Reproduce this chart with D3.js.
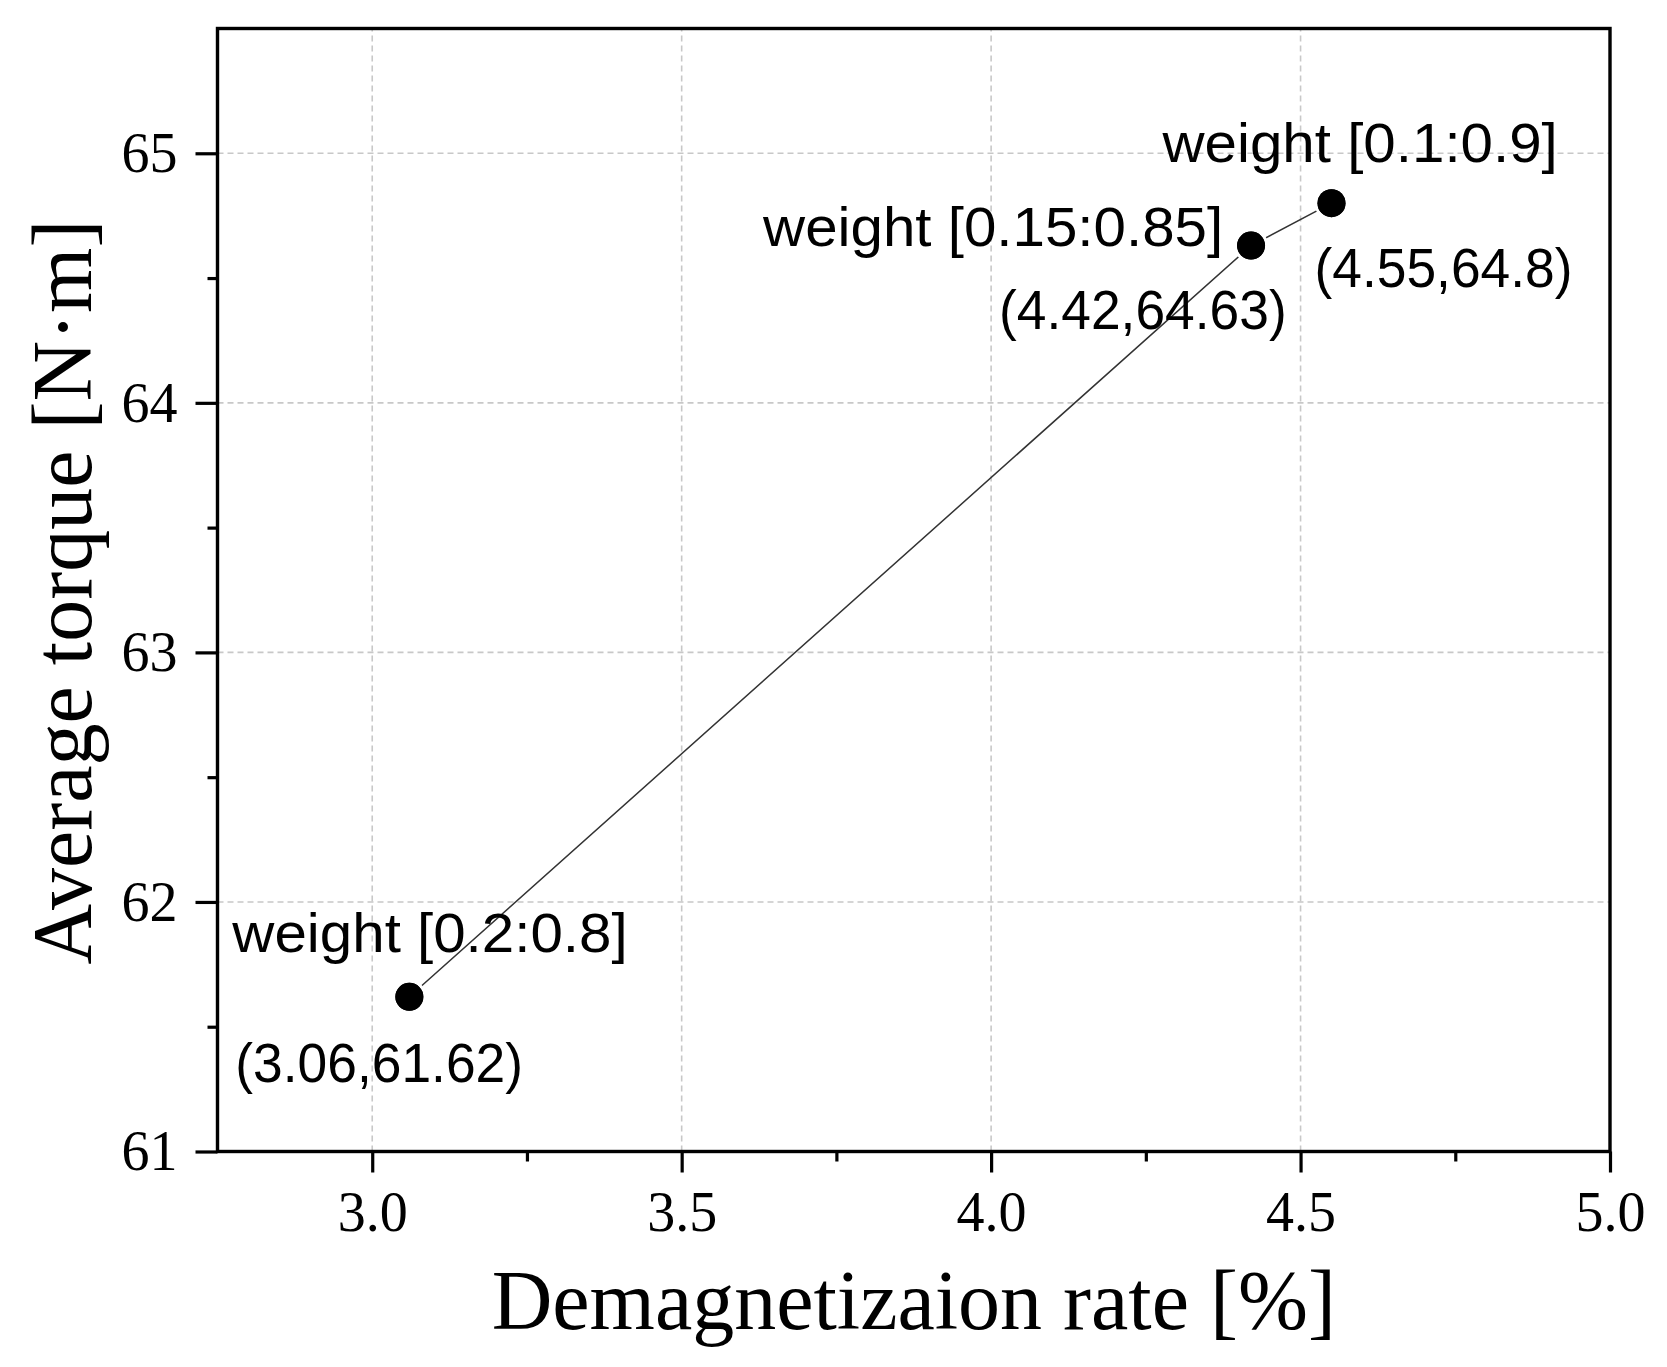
<!DOCTYPE html>
<html>
<head>
<meta charset="utf-8">
<script src="https://cdn.jsdelivr.net/npm/d3@7"></script>
<style>
  html, body { margin: 0; padding: 0; background: #fff; }
  svg { display: block; }
</style>
</head>
<body>
<svg id="chart" width="1667" height="1367"></svg>
<script>
// ---- data ----
const demagRate = [3.06, 4.42, 4.55];
const avgTorque = [61.62, 64.63, 64.8];
const weightLabels = ["weight [0.2:0.8]", "weight [0.15:0.85]", "weight [0.1:0.9]"];
const coordLabels = ["(3.06,61.62)", "(4.42,64.63)", "(4.55,64.8)"];
const xTicks = [3.0, 3.5, 4.0, 4.5, 5.0];
const xMinorTicks = [3.25, 3.75, 4.25, 4.75];
const yTicks = [61, 62, 63, 64, 65];
const yMinorTicks = [61.5, 62.5, 63.5, 64.5];
const xDomain = [2.75, 5.0];
const yDomain = [61, 65.5];
const xTitle = "Demagnetizaion rate [%]";
const yTitle = "Average torque [N·m]";

// ---- layout ----
const L = 217.5, R = 1610, T = 28.5, B = 1151.5;
const svg = d3.select("#chart");
const x = d3.scaleLinear().domain(xDomain).range([L, R]);
const y = d3.scaleLinear().domain(yDomain).range([B, T]);
const serif = "'Liberation Serif', 'Times New Roman', serif";
const sans = "'Liberation Sans', Arial, sans-serif";

// gridlines
const grid = svg.append("g").attr("stroke", "#c8c8c8").attr("stroke-width", 1.6)
  .attr("stroke-dasharray", "6,4");
grid.selectAll("line.gx").data(xTicks.filter(d => d > xDomain[0] && d < xDomain[1]))
  .join("line").attr("x1", d => x(d)).attr("x2", d => x(d)).attr("y1", B).attr("y2", T);
grid.selectAll("line.gy").data(yTicks.filter(d => d > yDomain[0] && d < yDomain[1]))
  .join("line").attr("y1", d => y(d)).attr("y2", d => y(d)).attr("x1", L).attr("x2", R);

// axes
const xAxis = d3.axisBottom(x).tickValues(xTicks).tickFormat(d3.format(".1f"))
  .tickSizeInner(21).tickSizeOuter(0).tickPadding(8);
const xAxisMinor = d3.axisBottom(x).tickValues(xMinorTicks).tickFormat("").tickSizeInner(10).tickSizeOuter(0);
const yAxis = d3.axisLeft(y).tickValues(yTicks).tickFormat(d3.format("d"))
  .tickSizeInner(22).tickSizeOuter(0).tickPadding(18);
const yAxisMinor = d3.axisLeft(y).tickValues(yMinorTicks).tickFormat("").tickSizeInner(10).tickSizeOuter(0);

function styleAxis(g) {
  g.select(".domain").remove();
  g.selectAll(".tick line").attr("stroke", "#000").attr("stroke-width", 3.2);
  g.selectAll(".tick text").attr("fill", "#000").attr("font-family", serif).attr("font-size", 56);
}
svg.append("g").attr("transform", `translate(0,${B})`).call(xAxis).call(styleAxis)
  .selectAll(".tick text").attr("dy", "0.9em");
svg.append("g").attr("transform", `translate(0,${B})`).call(xAxisMinor).call(styleAxis);
svg.append("g").attr("transform", `translate(${L},0)`).call(yAxis).call(styleAxis)
  .selectAll(".tick text").attr("dy", "0.33em");
svg.append("g").attr("transform", `translate(${L},0)`).call(yAxisMinor).call(styleAxis);

// frame
svg.append("rect").attr("x", L).attr("y", T).attr("width", R - L).attr("height", B - T)
  .attr("fill", "none").attr("stroke", "#000").attr("stroke-width", 3.4);

// data
const pts = demagRate.map((d, i) => ({ x: d, y: avgTorque[i], w: weightLabels[i], c: coordLabels[i] }));
svg.append("path").datum(pts)
  .attr("d", d3.line().x(d => x(d.x)).y(d => y(d.y)))
  .attr("fill", "none").attr("stroke", "#333").attr("stroke-width", 1.5);
svg.selectAll("circle.pt").data(pts).join("circle").attr("class", "pt")
  .attr("cx", d => x(d.x)).attr("cy", d => y(d.y)).attr("r", 14)
  .attr("fill", "#000").attr("stroke", "#fff").attr("stroke-width", 6).attr("paint-order", "stroke");
svg.selectAll("circle.pt2").data(pts).join("circle").attr("class", "pt2")
  .attr("cx", d => x(d.x)).attr("cy", d => y(d.y)).attr("r", 14).attr("fill", "#000");

// annotation labels (offsets relative to point)
const wOff = [[-177, -45], [-488, 0], [-169, -41]];
const cOff = [[-174, 85], [-252, 83], [-17, 84]];
svg.selectAll("text.wl").data(pts).join("text").attr("class", "wl")
  .attr("transform", (d, i) => `translate(${x(d.x) + wOff[i][0]},${y(d.y) + wOff[i][1]}) scale(1.06,1)`)
  .attr("font-family", sans).attr("font-size", 55).attr("fill", "#000")
  .text(d => d.w);
svg.selectAll("text.cl").data(pts).join("text").attr("class", "cl")
  .attr("transform", (d, i) => `translate(${x(d.x) + cOff[i][0]},${y(d.y) + cOff[i][1]}) scale(0.97,1)`)
  .attr("font-family", sans).attr("font-size", 55).attr("fill", "#000")
  .text(d => d.c);

// axis titles
svg.append("text").attr("x", (L + R) / 2).attr("y", 1329).attr("text-anchor", "middle")
  .attr("font-family", serif).attr("font-size", 84).attr("fill", "#000").text(xTitle);
svg.append("text").attr("transform", `translate(91,${(T + B) / 2 + 2}) rotate(-90)`)
  .attr("text-anchor", "middle")
  .attr("font-family", serif).attr("font-size", 84).attr("fill", "#000").text(yTitle);
</script>
</body>
</html>
